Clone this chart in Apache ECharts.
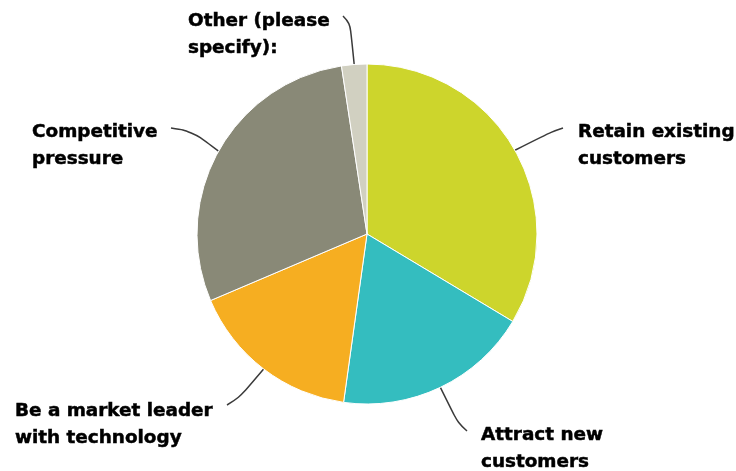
<!DOCTYPE html>
<html>
<head>
<meta charset="utf-8">
<script src="https://cdn.jsdelivr.net/npm/echarts@6/dist/echarts.min.js"></script>
<style>
  html, body { margin: 0; padding: 0; background: #ffffff; }
  #chart { width: 736px; height: 471px; }
</style>
</head>
<body>
<div id="chart"></div>
<script>
// Survey answers, clockwise from twelve o'clock
const categories = [
  'Retain existing\ncustomers',
  'Attract new\ncustomers',
  'Be a market leader\nwith technology',
  'Competitive\npressure',
  'Other (please\nspecify):'
];
const values = [33.6, 18.6, 16.4, 29.0, 2.4];

const sliceColors = ['#cdd52c', '#34bdbf', '#f6ae21', '#898977', '#d1d0c1'];

// Where each label block sits (top-left), plus the elbow and end of its leader line
const labelPlacement = [
  { x: 578, y: 118.5, bend: [551, 132], end: [563, 128] },
  { x: 481, y: 421.5, bend: [458, 423], end: [467, 431] },
  { x: 15,  y: 398,   bend: [239, 398], end: [227, 405] },
  { x: 32,  y: 119,   bend: [192, 131], end: [171, 128] },
  { x: 188, y: 7.5,   bend: [350, 23],  end: [343, 16] }
];

const chart = echarts.init(document.getElementById('chart'), null, { renderer: 'canvas' });

chart.setOption({
  backgroundColor: '#ffffff',
  animation: false,
  series: [{
    type: 'pie',
    center: [367, 234],
    radius: 170,
    startAngle: 90,
    clockwise: true,
    avoidLabelOverlap: false,
    data: categories.map((name, i) => ({
      name: name,
      value: values[i],
      itemStyle: { color: sliceColors[i] }
    })),
    itemStyle: { borderColor: '#ffffff', borderWidth: 1 },
    label: {
      show: true,
      position: 'outside',
      formatter: '{b}',
      fontFamily: 'DejaVu Sans',
      fontWeight: 'bold',
      fontSize: 18.4,
      lineHeight: 27,
      color: '#000000',
      textBorderColor: '#000000',
      textBorderWidth: 0.5
    },
    labelLine: {
      show: true,
      length: 20,
      length2: 20,
      smooth: 0.4,
      lineStyle: { color: '#3a3a3a', width: 1.5 }
    },
    labelLayout: function (params) {
      const p = labelPlacement[params.dataIndex];
      const start = params.labelLinePoints[0];
      return {
        x: p.x,
        y: p.y,
        align: 'left',
        verticalAlign: 'top',
        labelLinePoints: [start, p.bend, p.end]
      };
    },
    emphasis: { disabled: true }
  }]
});
</script>
</body>
</html>
